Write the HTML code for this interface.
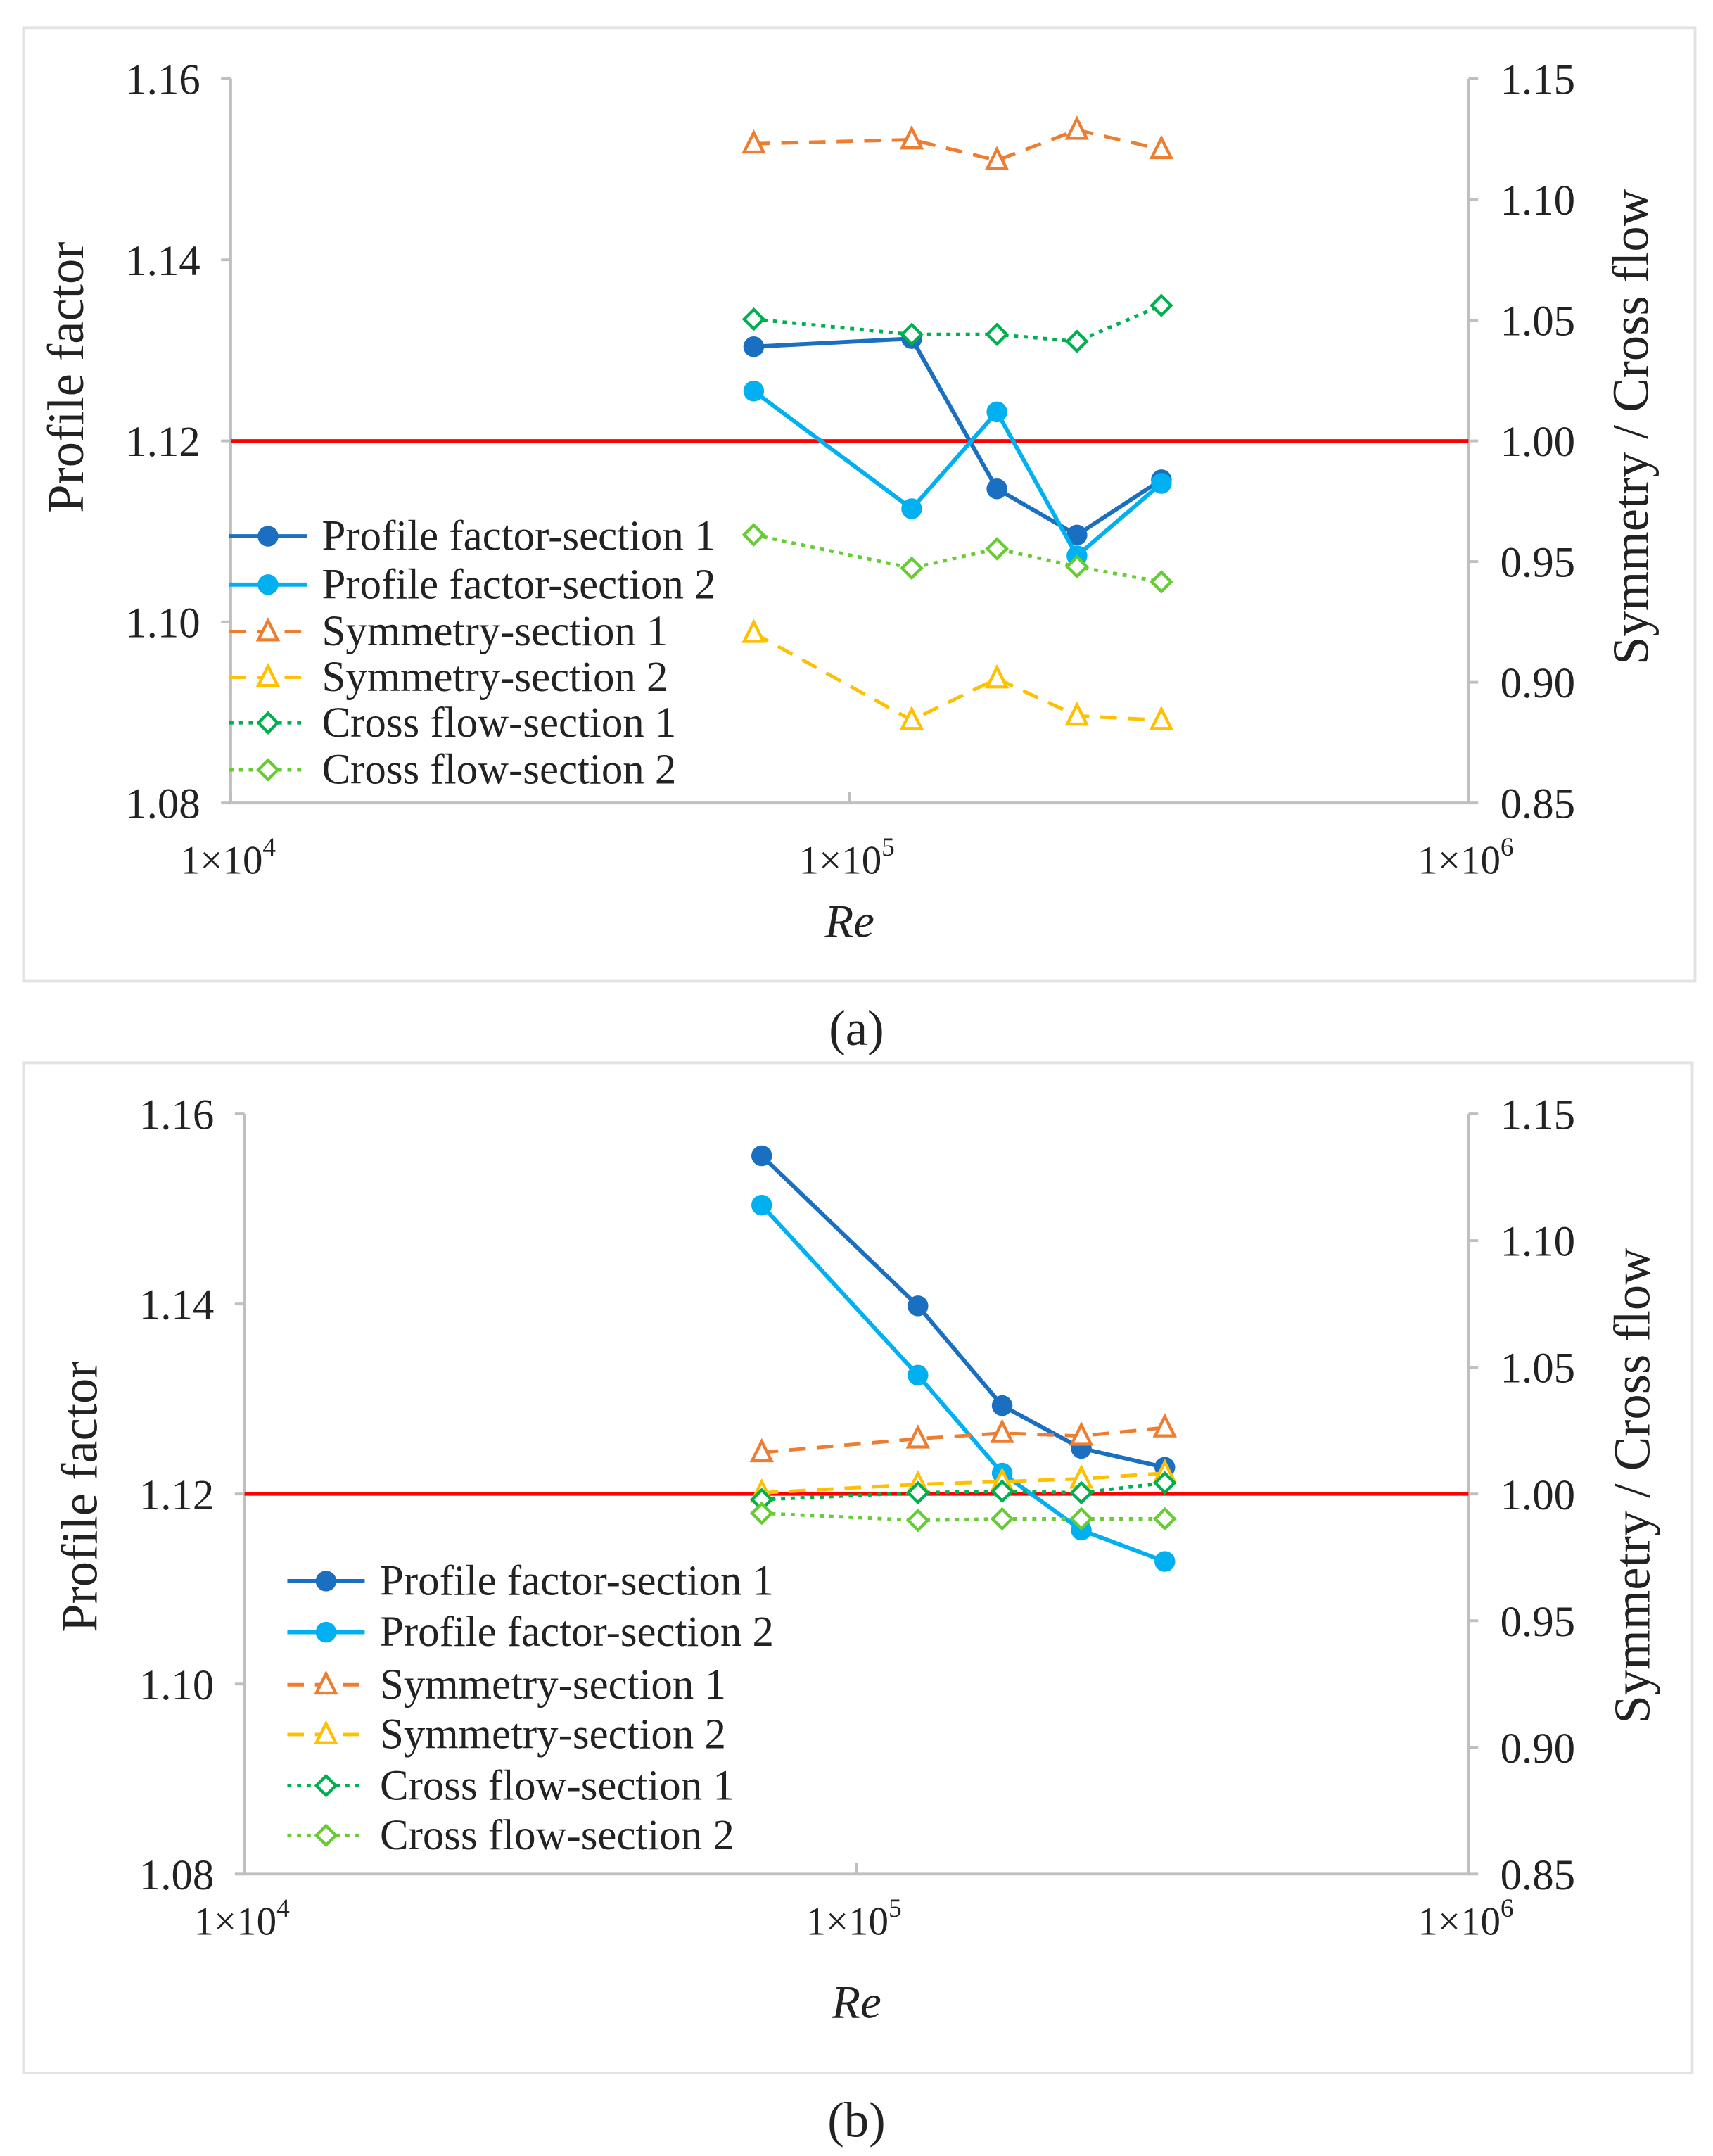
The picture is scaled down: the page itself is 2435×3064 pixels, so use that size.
<!DOCTYPE html>
<html><head><meta charset="utf-8"><style>
html,body{margin:0;padding:0;background:#fff;}
svg{display:block;}
text{font-family:"Liberation Serif",serif;fill:#222;}
</style></head>
<body>
<svg id="fig" width="2435" height="3064" viewBox="0 0 1240 1560" preserveAspectRatio="none" xmlns="http://www.w3.org/2000/svg"></svg>
<script>
const reynolds = [70000, 126000, 173000, 233000, 319000];
const xTickLabels = ["1×10", "1×10", "1×10"];
const xTickExps = ["4", "5", "6"];
const leftTicks = [1.08, 1.10, 1.12, 1.14, 1.16];
const rightTicks = [0.85, 0.90, 0.95, 1.00, 1.05, 1.10, 1.15];
const seriesNames = ["Profile factor-section 1","Profile factor-section 2","Symmetry-section 1","Symmetry-section 2","Cross flow-section 1","Cross flow-section 2"];
// chart (a)
const aPF1 = [1.1304, 1.1313, 1.1147, 1.1096, 1.1157];
const aPF2 = [1.1255, 1.1125, 1.1232, 1.1073, 1.1153];
const aSym1 = [1.1231, 1.1248, 1.1162, 1.1288, 1.1208];
const aSym2 = [0.9204, 0.8843, 0.9015, 0.8861, 0.8843];
const aCF1 = [1.0504, 1.0441, 1.0441, 1.0412, 1.0561];
const aCF2 = [0.9611, 0.9473, 0.9553, 0.9479, 0.9416];
// chart (b)
const bPF1 = [1.1556, 1.1398, 1.1293, 1.1248, 1.1228];
const bPF2 = [1.1504, 1.1325, 1.1222, 1.1162, 1.1129];
const bSym1 = [1.0164, 1.0218, 1.0240, 1.0229, 1.0262];
const bSym2 = [1.0005, 1.0038, 1.0049, 1.0060, 1.0082];
const bCF1 = [0.9978, 1.0005, 1.0011, 1.0005, 1.0044];
const bCF2 = [0.9924, 0.9896, 0.9902, 0.9902, 0.9902];
const refLeft = 1.12;

const NS = "http://www.w3.org/2000/svg";
const svg = document.getElementById("fig");
function mk(tag, attrs, parent){const e=document.createElementNS(NS,tag);for(const k in attrs)e.setAttribute(k,attrs[k]);(parent||svg).appendChild(e);return e;}

const styles = [
 {color:"#1a6fc0", dash:"", marker:"circle", w:3, axis:"L"},
 {color:"#00b0f0", dash:"", marker:"circle", w:3, axis:"L"},
 {color:"#ed7d31", dash:"12 8", marker:"tri", w:2.5, axis:"R"},
 {color:"#ffc000", dash:"12 8", marker:"tri", w:2.5, axis:"R"},
 {color:"#00b050", dash:"3 4", marker:"diam", w:2.5, axis:"R"},
 {color:"#66cc33", dash:"3 4", marker:"diam", w:2.5, axis:"R"}
];

function marker(g, kind, x, y, color){
  let m;
  if(kind==="circle") m=mk("circle",{cx:x,cy:y,r:7.5,fill:color},g);
  else if(kind==="tri") m=mk("polygon",{points:`${x},${y-8} ${x-7},${y+6} ${x+7},${y+6}`,fill:"#fff",stroke:color,"stroke-width":2.2},g);
  else m=mk("polygon",{points:`${x},${y-7} ${x+7},${y} ${x},${y+7} ${x-7},${y}`,fill:"#fff",stroke:color,"stroke-width":2.2},g);
  
  
  return m;
}

function drawChart(c){
  const g = mk("g",{});
  
  
  const fr = mk("rect",{x:c.fx,y:c.fy,width:c.fw,height:c.fh,fill:"#fff",stroke:"#e3e3e3","stroke-width":2},g);
  
  
  const X = v => c.x0 + (Math.log10(v)-4)/2*(c.x1-c.x0);
  const YL = v => c.yb - (v-1.08)/0.08*(c.yb-c.yt);
  const YR = v => c.yb - (v-0.85)/0.30*(c.yb-c.yt);
  const ax = mk("path",{d:`M${c.x0},${c.yt} V${c.yb} H${c.x1} V${c.yt}`,fill:"none",stroke:"#bfbfbf","stroke-width":2},g);
  
  
  leftTicks.forEach(v=>{
    const y=YL(v);
    mk("line",{x1:c.x0-7,x2:c.x0,y1:y,y2:y,stroke:"#bfbfbf","stroke-width":2},g);
    const t=mk("text",{x:c.x0-22,y:y+11,"font-size":31,"text-anchor":"end"},g);
    t.textContent=v.toFixed(2);
    
    
  });
  rightTicks.forEach(v=>{
    const y=YR(v);
    mk("line",{x1:c.x1,x2:c.x1+7,y1:y,y2:y,stroke:"#bfbfbf","stroke-width":2},g);
    const t=mk("text",{x:c.x1+23,y:y+11,"font-size":31},g);
    t.textContent=v.toFixed(2);
    
    
  });
  [1e4,1e5,1e6].forEach((v,i)=>{
    const x=X(v);
    mk("line",{x1:x,x2:x,y1:c.yb,y2:c.yb-8,stroke:"#bfbfbf","stroke-width":2},g);
    const t=mk("text",{x:x-2,y:c.xly,"font-size":29,"text-anchor":"middle"},g);
    t.textContent=xTickLabels[i];
    const s=mk("tspan",{"font-size":19,dy:-13},t);
    s.textContent=xTickExps[i];
    
    
  });
  const xt=mk("text",{x:(c.x0+c.x1)/2,y:c.xty,"font-size":34,"font-style":"italic","text-anchor":"middle"},g);
  xt.textContent="Re";
  
  
  const ly=(c.yt+c.yb)/2;
  const lt=mk("text",{x:0,y:0,"font-size":37,"text-anchor":"middle",transform:`translate(${c.ltx},${c.lty}) rotate(-90)`},g);
  lt.textContent="Profile factor";
  
  
  const rt=mk("text",{x:0,y:0,"font-size":37,"text-anchor":"middle",transform:`translate(${c.rtx},${c.rty}) rotate(-90)`},g);
  rt.textContent="Symmetry / Cross flow";
  
  
  const rl=mk("line",{x1:c.x0,x2:c.x1,y1:YL(refLeft),y2:YL(refLeft),stroke:"#ff0000","stroke-width":2.5},g);
  
  
  c.data.forEach((vals,si)=>{
    const st=styles[si];
    const Y = st.axis==="L"?YL:YR;
    const sg=mk("g",{},g);
    
    
    const pts=vals.map((v,i)=>`${X(reynolds[i])},${Y(v)}`).join(" ");
    mk("polyline",{points:pts,fill:"none",stroke:st.color,"stroke-width":st.w,"stroke-dasharray":st.dash},sg);
    vals.forEach((v,i)=>marker(sg,st.marker,X(reynolds[i]),Y(v),st.color));
  });
  const lg=mk("g",{},g);
  
  
  seriesNames.forEach((n,i)=>{
    const st=styles[i];
    const y=c.legY[i];
    const e=mk("g",{},lg);
    
    
    mk("line",{x1:c.legX,x2:c.legX+56,y1:y,y2:y,stroke:st.color,"stroke-width":st.w,"stroke-dasharray":st.dash},e);
    marker(e,st.marker,c.legX+28,y,st.color);
    const t=mk("text",{x:c.legX+67,y:y+10,"font-size":31},e);
    t.textContent=n;
  });
  const cap=mk("text",{x:620,y:c.capY,"font-size":36,"text-anchor":"middle"},svg);
  cap.textContent=c.cap;
  
  
}

drawChart({name:"chart-a",fx:17,fy:20,fw:1210,fh:690,x0:167,x1:1063,yt:57,yb:581,xly:632,xty:678,ltx:60,lty:273,rtx:1193,rty:309,
  legX:166,legY:[388,423,457,490,523,557],capY:756,cap:"(a)",data:[aPF1,aPF2,aSym1,aSym2,aCF1,aCF2]});
drawChart({name:"chart-b",fx:17,fy:769,fw:1208,fh:731,x0:177,x1:1063,yt:806,yb:1356,xly:1400,xty:1460,ltx:70,lty:1083,rtx:1194,rty:1075,
  legX:208,legY:[1144,1181,1219,1255,1292,1328],capY:1546,cap:"(b)",data:[bPF1,bPF2,bSym1,bSym2,bCF1,bCF2]});
</script>
</body></html>
